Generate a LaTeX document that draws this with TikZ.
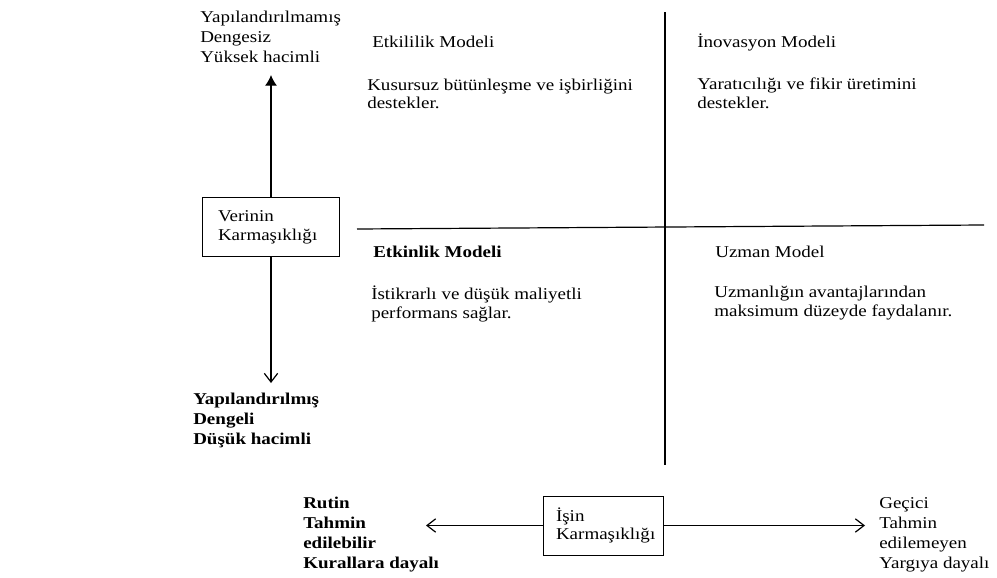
\documentclass[tikz,border=0pt]{standalone}
\usepackage{fontspec}
\setmainfont{Liberation Serif}[FakeStretch=1.15]
\usepackage{tikz}
\usetikzlibrary{arrows.meta}

\begin{document}
\begin{tikzpicture}
	[x=0.75pt, y=-0.75pt,
	txt/.style={anchor=west, align=left, inner sep=0pt, font=\fontsize{12.4}{14}\selectfont},
	lst/.style={anchor=west, align=left, inner sep=0pt, font=\fontsize{12.4}{15}\selectfont},
	kbox/.style={draw, line width=0.6pt, align=left, minimum height=44.25pt, inner ysep=0pt, font=\fontsize{12.4}{14}\selectfont},
	ax/.style={line width=0.9pt},
	open/.style={-{Straight Barb[length=6.5pt, width=10pt]}, line width=0.9pt}]

	\useasboundingbox (0,0) rectangle (997,578);

	% quadrant lines
	\draw [ax] (665,12)--(665,465);
	\draw [ax] (357,229)--(984,225);

	% data complexity axis
	\node[kbox, text width=78.75pt, inner xsep=12pt] (veri) at (270.5,227) {Verinin\\Karmaşıklığı};
	\coordinate (yuk) at (271,75);
	\coordinate (dus) at (271,383);
	\draw [ax, -{Latex[length=8pt, width=9pt]}] (veri.north -| yuk)--(yuk);
	\draw [open] (veri.south -| dus)--(dus);
	\node[lst] (ust) at (200,37) {Yapılandırılmamış\\Dengesiz\\Yüksek hacimli};
	\node[lst, font=\fontsize{12.4}{15}\selectfont\bfseries] (alt) at (193,420) {Yapılandırılmış\\Dengeli\\Düşük hacimli};

	% work complexity axis
	\node[kbox, text width=70.5pt, inner xsep=9.75pt] (is) at (603,525.5) {İşin\\Karmaşıklığı};
	\coordinate (sol) at (426,525.5);
	\coordinate (sag) at (865,525.5);
	\draw [open] (is.west)--(sol);
	\draw [open] (is.east)--(sag);
	\node[lst, font=\fontsize{12.4}{15}\selectfont\bfseries] (rutin) at (303,535) {Rutin\\Tahmin\\edilebilir\\Kurallara dayalı};
	\node[lst] (gecici) at (879,535) {Geçici\\Tahmin\\edilemeyen\\Yargıya dayalı};

	% quadrants
	\node[txt] (q1) at (372,42) {Etkililik Modeli};
	\node[txt] (q1t) at (367,94) {Kusursuz bütünleşme ve işbirliğini\\destekler.};
	\node[txt] (q2) at (697,42) {İnovasyon Modeli};
	\node[txt] (q2t) at (697,93) {Yaratıcılığı ve fikir üretimini\\destekler.};
	\node[txt, font=\fontsize{12.4}{14}\selectfont\bfseries] (q3) at (373,252) {Etkinlik Modeli};
	\node[txt] (q3t) at (371,304) {İstikrarlı ve düşük maliyetli\\performans sağlar.};
	\node[txt] (q4) at (715,252) {Uzman Model};
	\node[txt] (q4t) at (714,303) {Uzmanlığın avantajlarından\\maksimum düzeyde faydalanır.};

\end{tikzpicture}
\end{document}
